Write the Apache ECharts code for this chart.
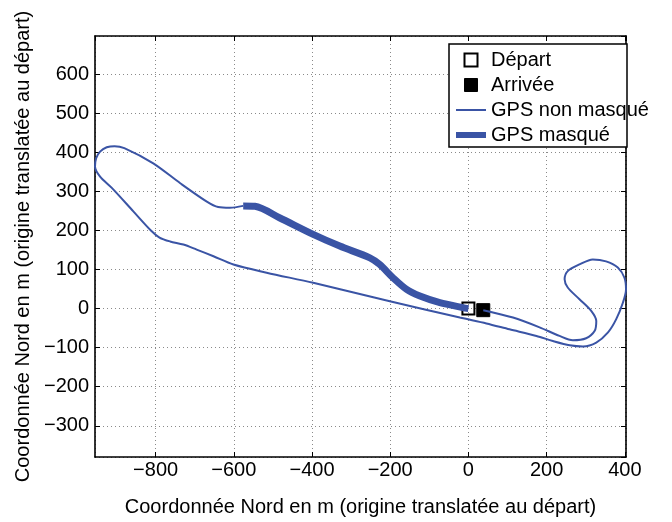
<!DOCTYPE html>
<html><head><meta charset="utf-8">
<script src="https://cdn.jsdelivr.net/npm/echarts@6/dist/echarts.min.js"></script>
<style>html,body{margin:0;padding:0;background:#fff}#c{width:672px;height:522px}</style>
</head><body><div id="c"></div>
<script>
// ---- data ----
const xTicks = [-800, -600, -400, -200, 0, 200, 400];
const yTicks = [-300, -200, -100, 0, 100, 200, 300, 400, 500, 600];
const axisName = 'Coordonnée Nord en m (origine translatée au départ)';
const depart = [[0, 0]];
const arrivee = [[38, -4]];
const gpsNonMasque = [
  [38,-4],[114,-23],[182,-48],[233,-70],[267,-81],[301,-76],[323,-57],[327,-32],[314,-6],
  [284,24],[254,54],[246,75],[254,96],[284,113],[318,126],[352,121],[382,105],[399,79],
  [403,49],[395,15],[378,-27],[357,-61],[327,-87],[293,-97],[259,-94],[216,-83],[174,-70],
  [105,-53],[46,-38],[-22,-23],[-201,19],[-397,66],[-516,92],[-601,113],[-652,134],
  [-695,151],[-729,164],[-763,172],[-790,182],[-812,200],[-857,249],[-912,309],[-942,338],
  [-955,364],[-952,385],[-942,402],[-925,413],[-905,416],[-880,411],[-806,372],[-737,321],
  [-669,274],[-640,260],[-610,258],[-576,263]
];
const gpsMasque = [
  [-576,263],[-546,262],[-482,232],[-397,190],[-329,160],[-252,130],[-227,113],[-193,79],
  [-158,49],[-124,32],[-73,15],[-14,2.5],[0,0]
];
// ---- chart ----
const FONT = 'Liberation Sans, Arial, sans-serif';
const BLUE = '#3a54a5';
const fmt = (ticks) => (v) => ticks.includes(Math.round(v)) && Math.abs(v - Math.round(v)) < 1e-6 ? String(Math.round(v)).replace('-', '\u2212') : '';
const gridLine = {show: true, lineStyle: {type: [1, 3], color: '#8a8a8a', width: 1}};
const axLine = {show: true, onZero: false, lineStyle: {color: '#000', width: 1.6}};
const tick = {show: true, inside: true, length: 5, lineStyle: {color: '#000', width: 1}};
const xRange = {min: -955, max: 403, minInterval: 200, maxInterval: 200};
const yRange = {min: -380, max: 698, minInterval: 100, maxInterval: 100};
const chart = echarts.init(document.getElementById('c'), null, {renderer: 'canvas'});
chart.setOption({
  animation: false,
  backgroundColor: '#fff',
  grid: {left: 95, right: 46, top: 36, bottom: 63, containLabel: false},
  xAxis: [
    Object.assign({type: 'value', position: 'bottom', axisLine: axLine, axisTick: tick, splitLine: gridLine,
      axisLabel: {formatter: fmt(xTicks), showMinLabel: false, showMaxLabel: false, color: '#000', fontSize: 20, fontFamily: FONT, margin: 3},
      name: axisName, nameLocation: 'middle', nameGap: 40,
      nameTextStyle: {color: '#000', fontSize: 20, fontFamily: FONT}}, xRange),
    Object.assign({type: 'value', position: 'top', axisLine: axLine, axisTick: tick, splitLine: {show: false},
      axisLabel: {show: false}}, xRange)
  ],
  yAxis: [
    Object.assign({type: 'value', position: 'left', axisLine: axLine, axisTick: tick, splitLine: gridLine,
      axisLabel: {formatter: fmt(yTicks), showMinLabel: false, showMaxLabel: false, color: '#000', fontSize: 20, fontFamily: FONT, margin: 6},
      name: axisName, nameLocation: 'middle', nameGap: 59,
      nameTextStyle: {color: '#000', fontSize: 20, fontFamily: FONT}}, yRange),
    Object.assign({type: 'value', position: 'right', axisLine: axLine, axisTick: tick, splitLine: {show: false},
      axisLabel: {show: false}}, yRange)
  ],
  graphic: [{
    type: 'rect', z: 50,
    shape: {x: 449, y: 44, width: 178, height: 103},
    style: {fill: '#fff', stroke: '#000', lineWidth: 1.5}
  }],
  legend: {
    z: 60, orient: 'vertical', left: 456, top: 50, padding: 0, itemGap: 5,
    itemWidth: 30, itemHeight: 13, symbolKeepAspect: true,
    textStyle: {color: '#000', fontSize: 20, fontFamily: FONT},
    data: [
      {name: 'Départ', icon: 'path://M0 0H10V10H0Z', itemStyle: {color: '#fff', borderColor: '#000', borderWidth: 2, opacity: 1}},
      {name: 'Arrivée', icon: 'path://M0 0H10V10H0Z', itemStyle: {color: '#000', borderColor: '#000', borderWidth: 1, opacity: 1}},
      {name: 'GPS non masqué', icon: 'path://M0 0H30V2H0Z', itemStyle: {color: BLUE, borderWidth: 0, opacity: 1}},
      {name: 'GPS masqué', icon: 'path://M0 0H30V6H0Z', itemStyle: {color: BLUE, borderWidth: 0, opacity: 1}}
    ]
  },
  series: [
    {name: 'Départ', type: 'scatter', data: depart, symbol: 'rect', symbolSize: 12, z: 1,
      itemStyle: {color: 'rgba(255,255,255,0)', borderColor: '#000', borderWidth: 2, opacity: 1}},
    {name: 'Arrivée', type: 'scatter', data: arrivee, symbol: 'rect', symbolSize: 13, z: 1,
      itemStyle: {color: '#000', borderColor: '#000', borderWidth: 1, opacity: 1}},
    {name: 'GPS non masqué', type: 'line', data: gpsNonMasque, showSymbol: false, symbol: 'none', smooth: 0.3, z: 3,
      lineStyle: {color: BLUE, width: 2}, itemStyle: {color: BLUE}},
    {name: 'GPS masqué', type: 'line', data: gpsMasque, showSymbol: false, symbol: 'none', smooth: 0.3, z: 4,
      lineStyle: {color: BLUE, width: 7}, itemStyle: {color: BLUE}}
  ]
});
</script>
</body></html>
